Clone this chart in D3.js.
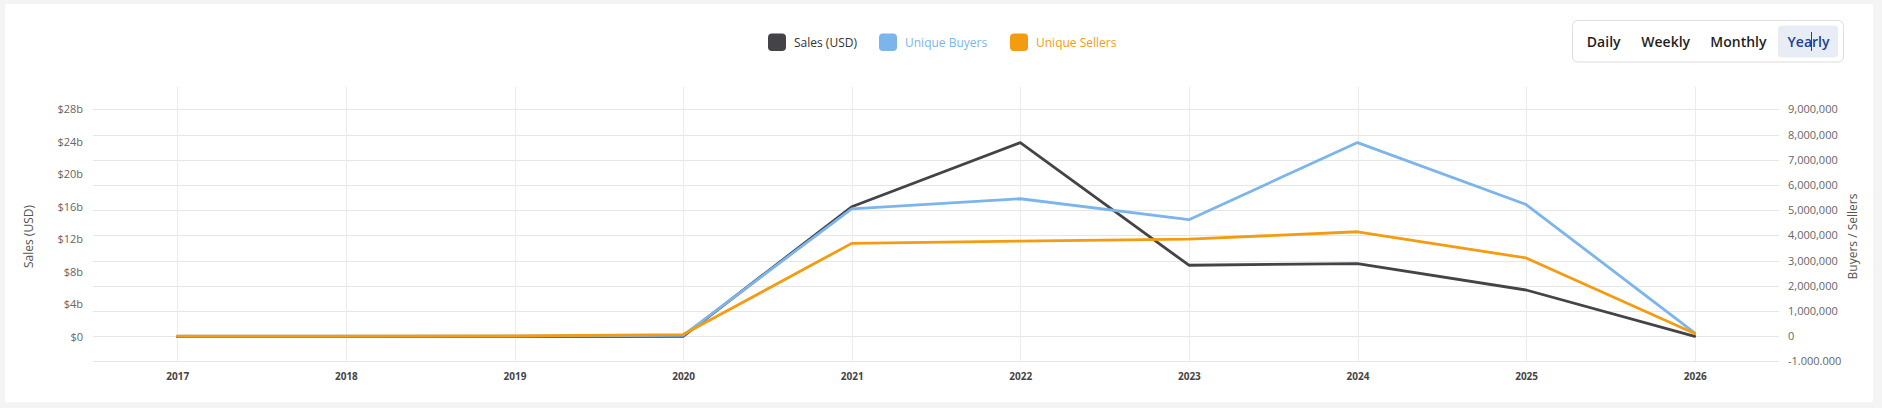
<!DOCTYPE html>
<html><head><meta charset="utf-8">
<script src="https://cdn.jsdelivr.net/npm/d3@7/dist/d3.min.js"></script>
<style>
html,body{margin:0;padding:0;background:#f4f4f4;}
svg{display:block;font-family:"Open Sans",sans-serif;}
</style></head>
<body>
<svg id="c" width="1882" height="408"></svg>
<script>
const years = ["2017","2018","2019","2020","2021","2022","2023","2024","2025","2026"];
const salesUSD = [0, 0, 0, 0.05e9, 16.0e9, 23.9e9, 8.8e9, 9.0e9, 5.75e9, 0.05e9];
const uniqueBuyers = [0, 0, 0, 30000, 5050000, 5450000, 4620000, 7680000, 5220000, 130000];
const uniqueSellers = [0, 0, 10000, 60000, 3680000, 3770000, 3850000, 4140000, 3100000, 100000];
const leftTickValues = [0, 4e9, 8e9, 12e9, 16e9, 20e9, 24e9, 28e9];
const leftTickLabels = ["$0","$4b","$8b","$12b","$16b","$20b","$24b","$28b"];
const rightTickValues = [-1e6,0,1e6,2e6,3e6,4e6,5e6,6e6,7e6,8e6,9e6];
const rightTickLabels = ["-1.000.000","0","1,000,000","2,000,000","3,000,000","4,000,000","5,000,000","6,000,000","7,000,000","8,000,000","9,000,000"];
const seriesNames = ["Sales (USD)","Unique Buyers","Unique Sellers"];
const seriesColors = ["#434348","#7cb5ec","#f39c12"];
const legendTextColors = ["#333333","#7cb5ec","#f39c12"];
const periods = ["Daily","Weekly","Monthly","Yearly"];

const svg = d3.select("#c");
// card
svg.append("rect").attr("x",5).attr("y",4).attr("width",1868).attr("height",398).attr("fill","#fff").attr("rx",2);

const plotL = 93, plotR = 1779, plotT = 87, plotB = 361.3;
const x = d3.scalePoint().domain(years).range([plotL, plotR]).padding(0.5);
const yR = d3.scaleLinear().domain([-1e6, 9e6]).range([361.3, 109.3]);
const yL = d3.scaleLinear().domain([0, 28e9]).range([336.7, 109.3]);

// horizontal gridlines (right axis ticks)
svg.append("g").selectAll("line").data(rightTickValues).join("line")
  .attr("x1",plotL).attr("x2",plotR)
  .attr("y1",d=>Math.round(yR(d))+0.5).attr("y2",d=>Math.round(yR(d))+0.5)
  .attr("stroke","#e6e6e6").attr("stroke-width",1);
// vertical gridlines
svg.append("g").selectAll("line").data(years).join("line")
  .attr("x1",d=>Math.round(x(d))+0.5).attr("x2",d=>Math.round(x(d))+0.5)
  .attr("y1",plotT).attr("y2",plotB)
  .attr("stroke","#ebebeb").attr("stroke-width",1);

// left axis
const gL = svg.append("g").attr("transform",`translate(${plotL-4},0)`)
  .call(d3.axisLeft(yL).tickValues(leftTickValues).tickFormat((d,i)=>leftTickLabels[i]).tickSize(0).tickPadding(6));
gL.select(".domain").remove();
gL.selectAll("text").attr("font-size",11).attr("fill","#666").attr("font-family","Open Sans");

// right axis
const gR = svg.append("g").attr("transform",`translate(${plotR+3},0)`)
  .call(d3.axisRight(yR).tickValues(rightTickValues).tickFormat((d,i)=>rightTickLabels[i]).tickSize(0).tickPadding(6));
gR.select(".domain").remove();
gR.selectAll("text").attr("font-size",11).attr("fill","#666").attr("font-family","Open Sans");

// x axis
const gX = svg.append("g").attr("transform",`translate(0,${plotB})`)
  .call(d3.axisBottom(x).tickSize(0).tickPadding(12));
gX.select(".domain").remove();
gX.selectAll("text").attr("font-size",10).attr("font-weight",700).attr("fill","#444").attr("font-family","Open Sans");

// axis titles
svg.append("text").attr("transform","translate(33,236.5) rotate(-90)").attr("text-anchor","middle")
  .attr("font-size",12).attr("fill","#555").text("Sales (USD)");
svg.append("text").attr("transform","translate(1857,236.5) rotate(-90)").attr("text-anchor","middle")
  .attr("font-size",12).attr("fill","#555").text("Buyers / Sellers");

// lines
const lineL = d3.line().x((d,i)=>x(years[i])).y(d=>yL(d));
const lineR = d3.line().x((d,i)=>x(years[i])).y(d=>yR(d));
const lg = svg.append("g").attr("fill","none").attr("stroke-width",2.8).attr("stroke-linejoin","round").attr("stroke-linecap","round");
lg.append("path").attr("d",lineL(salesUSD)).attr("stroke",seriesColors[0]);
lg.append("path").attr("d",lineR(uniqueBuyers)).attr("stroke",seriesColors[1]);
lg.append("path").attr("d",lineR(uniqueSellers)).attr("stroke",seriesColors[2]);

// legend
const legendX = [768, 879, 1010];
const leg = svg.append("g");
seriesNames.forEach((n,i)=>{
  leg.append("rect").attr("x",legendX[i]).attr("y",33.5).attr("width",18).attr("height",17.5).attr("rx",4).attr("fill",seriesColors[i]);
  leg.append("text").attr("x",legendX[i]+26).attr("y",46.5).attr("font-size",12).attr("fill",legendTextColors[i]).text(n);
});

// period buttons
const bg = svg.append("g");
bg.append("rect").attr("x",1572.5).attr("y",20.5).attr("width",271).attr("height",41.5).attr("rx",5)
  .attr("fill","#fff").attr("stroke","#dddddd");
bg.append("rect").attr("x",1778).attr("y",25.5).attr("width",60).attr("height",32).attr("rx",4).attr("fill","#e8edf5");
const btnCx = [1603.7, 1665.7, 1738.4, 1808.5];
periods.forEach((p,i)=>{
  bg.append("text").attr("x",btnCx[i]).attr("y",47).attr("text-anchor","middle")
    .attr("font-size",14).attr("font-weight",600).attr("fill", i===3 ? "#23408e" : "#1f1f1f").text(p);
});
bg.append("line").attr("x1",1811.5).attr("x2",1811.5).attr("y1",32).attr("y2",51).attr("stroke","#23408e").attr("stroke-width",1);
</script>
</body></html>
